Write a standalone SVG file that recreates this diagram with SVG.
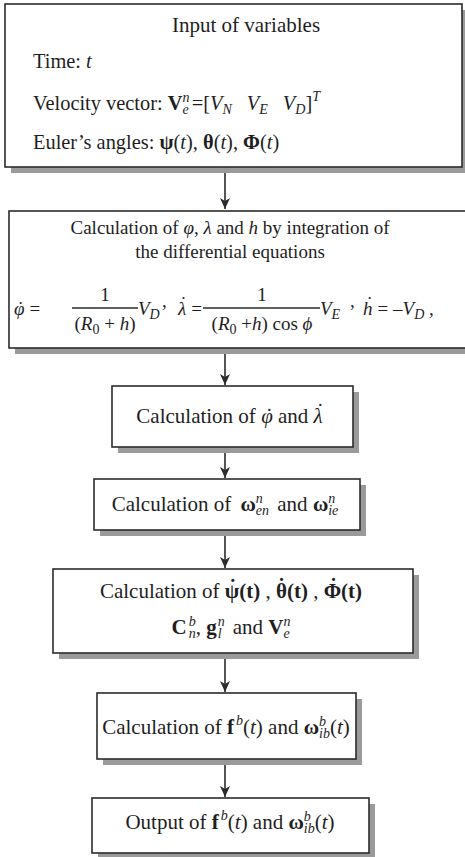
<svg xmlns="http://www.w3.org/2000/svg" width="465" height="857" viewBox="0 0 465 857" font-family="'Liberation Serif', 'DejaVu Serif', serif">
<defs>
<style>
.box{fill:#fff;stroke:#2b2b2b;stroke-width:1.6}
.sh{fill:#9a9a9a}
text{fill:#1e1e1e;font-family:'Liberation Serif','DejaVu Serif',serif}
.t{font-size:21px}
.t1{font-size:20.4px}
.t2{font-size:19px}
.i{font-style:italic}
.b{font-weight:bold}
.s{font-size:14px}
.line{stroke:#2b2b2b;stroke-width:1.6;fill:none}
</style>
<marker id="ah" markerUnits="userSpaceOnUse" markerWidth="12" markerHeight="12" viewBox="0 0 12 12" refX="11" refY="6" orient="auto">
<path d="M0,1 L11,6 L0,11 L3,6 z" fill="#2b2b2b"/>
</marker>
</defs>
<rect width="465" height="857" fill="#fff"/>

<g id="connectors">
<line class="line" x1="225" y1="168" x2="225" y2="209" marker-end="url(#ah)"/>
<line class="line" x1="225" y1="349" x2="225" y2="385" marker-end="url(#ah)"/>
<line class="line" x1="225" y1="448" x2="225" y2="478" marker-end="url(#ah)"/>
<line class="line" x1="225" y1="531" x2="225" y2="568" marker-end="url(#ah)"/>
<line class="line" x1="225" y1="654" x2="225" y2="692" marker-end="url(#ah)"/>
<line class="line" x1="225" y1="760" x2="225" y2="797" marker-end="url(#ah)"/>
</g>

<g id="input">
<rect class="sh" x="11" y="10" width="457" height="163"/>
<rect class="box" x="5" y="4" width="457" height="163"/>
<text class="t" x="246" y="32" text-anchor="middle">Input of variables</text>
<text class="t1" x="33" y="68">Time: <tspan class="i">t</tspan></text>
<text class="t1" x="33" y="110">Velocity vector: <tspan class="b">V</tspan><tspan class="s i" dy="-8">n</tspan><tspan class="s i" dx="-7" dy="12">e</tspan><tspan dy="-4" dx="3">=[</tspan><tspan class="i">V</tspan><tspan class="s i" dy="4">N</tspan><tspan class="i" dx="15" dy="-4">V</tspan><tspan class="s i" dy="4">E</tspan><tspan class="i" dx="15" dy="-4">V</tspan><tspan class="s i" dy="4">D</tspan><tspan dy="-4">]</tspan><tspan class="s i" dy="-9">T</tspan></text>
<text class="t1" x="33" y="149">Euler’s angles: <tspan class="b">ψ</tspan>(<tspan class="i">t</tspan>), <tspan class="b">θ</tspan>(<tspan class="i">t</tspan>), <tspan class="b">Φ</tspan>(<tspan class="i">t</tspan>)</text>
</g>

<g id="integration">
<rect class="sh" x="15" y="217" width="460" height="137"/>
<rect class="box" x="9" y="211" width="470" height="137"/>
<text class="t2" x="230" y="234" text-anchor="middle">Calculation of <tspan class="i">φ</tspan>, <tspan class="i">λ</tspan> and <tspan class="i">h</tspan> by integration of</text>
<text class="t2" x="230" y="258" text-anchor="middle">the differential equations</text>
<text class="t2" x="14" y="315"><tspan class="i">φ</tspan><tspan dx="-7">˙</tspan><tspan dx="1"> =</tspan></text>
<text class="t2" x="105" y="301" text-anchor="middle">1</text>
<line class="line" x1="72" y1="308" x2="138" y2="308" stroke-width="1.2"/>
<text class="t2" x="105" y="330" text-anchor="middle">(<tspan class="i">R</tspan><tspan class="s" dy="4">0</tspan><tspan dy="-4"> + </tspan><tspan class="i">h</tspan>)</text>
<text class="t2" x="138" y="315"><tspan class="i">V</tspan><tspan class="s i" dy="4">D</tspan></text>
<text class="t2" x="162" y="307">,</text>
<text class="t2" x="178" y="315"><tspan class="i">λ</tspan><tspan dx="-6" dy="-5">˙</tspan><tspan dx="0" dy="5"> =</tspan></text>
<text class="t2" x="262" y="301" text-anchor="middle">1</text>
<line class="line" x1="203" y1="308" x2="320" y2="308" stroke-width="1.2"/>
<text class="t2" x="262" y="330" text-anchor="middle">(<tspan class="i">R</tspan><tspan class="s" dy="4">0</tspan><tspan dy="-4"> +</tspan><tspan class="i">h</tspan>) cos <tspan class="i">ϕ</tspan></text>
<text class="t2" x="320" y="315"><tspan class="i">V</tspan><tspan class="s i" dy="4">E</tspan></text>
<text class="t2" x="350" y="307">,</text>
<text class="t2" x="363" y="315"><tspan class="i">h</tspan><tspan dx="-6" dy="-5">˙</tspan><tspan dy="5"> = –</tspan><tspan class="i">V</tspan><tspan class="s i" dy="4">D</tspan><tspan dy="-4"> ,</tspan></text>
</g>

<g id="rates">
<rect class="sh" x="118" y="392" width="241" height="61"/>
<rect class="box" x="112" y="386" width="241" height="61"/>
<text class="t" x="230" y="423" text-anchor="middle">Calculation of <tspan class="i">φ</tspan><tspan dx="-7">˙</tspan><tspan dx="0"> and </tspan><tspan class="i">λ</tspan><tspan dx="-6" dy="-5">˙</tspan></text>
</g>

<g id="omega">
<rect class="sh" x="100" y="485" width="266" height="51"/>
<rect class="box" x="94" y="479" width="266" height="51"/>
<text class="t" x="225" y="511" text-anchor="middle">Calculation of <tspan class="b" dx="4">ω</tspan><tspan class="s i" dy="-8">n</tspan><tspan class="s i" dx="-7" dy="12">en</tspan><tspan dy="-4" dx="3"> and </tspan><tspan class="b">ω</tspan><tspan class="s i" dy="-8">n</tspan><tspan class="s i" dx="-7" dy="12">ie</tspan></text>
</g>

<g id="attitude">
<rect class="sh" x="59" y="575" width="360" height="84"/>
<rect class="box" x="53" y="569" width="360" height="84"/>
<text class="t" x="231" y="598" text-anchor="middle">Calculation of <tspan class="b">ψ</tspan><tspan class="b" dx="-10" dy="-4">˙</tspan><tspan class="b" dx="3" dy="4">(t)</tspan> , <tspan class="b">θ</tspan><tspan class="b" dx="-9" dy="-5">˙</tspan><tspan class="b" dx="2" dy="5">(t)</tspan> , <tspan class="b">Φ</tspan><tspan class="b" dx="-11" dy="-5">˙</tspan><tspan class="b" dx="4" dy="5">(t)</tspan></text>
<text class="t" x="231" y="634" text-anchor="middle"><tspan class="b">C</tspan><tspan class="s i" dy="-8" dx="2">b</tspan><tspan class="s i" dx="-7" dy="12">n</tspan><tspan dy="-4">, </tspan><tspan class="b">g</tspan><tspan class="s i" dy="-8" dx="1">n</tspan><tspan class="s i" dx="-7" dy="12">l</tspan><tspan dy="-4" dx="6"> and </tspan><tspan class="b">V</tspan><tspan class="s i" dy="-8">n</tspan><tspan class="s i" dx="-7" dy="12">e</tspan></text>
</g>

<g id="forces">
<rect class="sh" x="103" y="699" width="259" height="66"/>
<rect class="box" x="97" y="693" width="259" height="66"/>
<text class="t" x="226" y="734" text-anchor="middle">Calculation of <tspan class="b">f</tspan><tspan class="s i" dy="-9" dx="2">b</tspan><tspan dy="9">(</tspan><tspan class="i">t</tspan>) and <tspan class="b">ω</tspan><tspan class="s i" dy="-8">b</tspan><tspan class="s i" dx="-7" dy="12">ib</tspan><tspan dy="-4">(</tspan><tspan class="i">t</tspan>)</text>
</g>

<g id="output">
<rect class="sh" x="98" y="804" width="277" height="55"/>
<rect class="box" x="92" y="798" width="277" height="55"/>
<text class="t" x="230" y="829" text-anchor="middle">Output of <tspan class="b">f</tspan><tspan class="s i" dy="-9" dx="2">b</tspan><tspan dy="9">(</tspan><tspan class="i">t</tspan>) and <tspan class="b">ω</tspan><tspan class="s i" dy="-8">b</tspan><tspan class="s i" dx="-7" dy="12">ib</tspan><tspan dy="-4">(</tspan><tspan class="i">t</tspan>)</text>
</g>
</svg>
